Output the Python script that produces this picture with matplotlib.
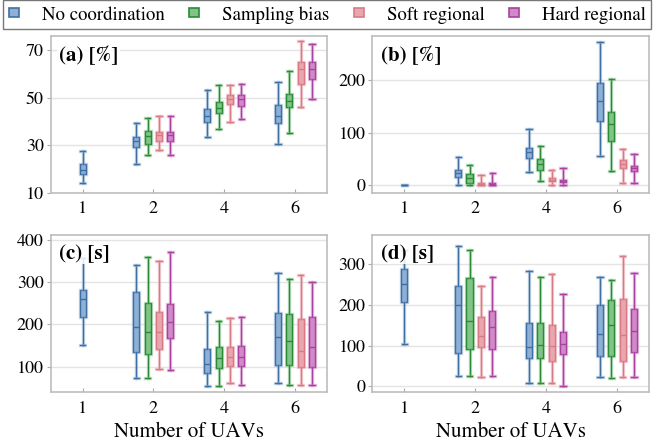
import matplotlib
matplotlib.use("Agg")
import matplotlib.pyplot as plt
import matplotlib.patheffects as pe
from matplotlib.patches import Patch

plt.rcParams['font.family'] = ['STIXGeneral', 'DejaVu Serif']
plt.rcParams['mathtext.fontset'] = 'stix'

uav_counts = ['1', '2', '4', '6']
series_names = ['No coordination', 'Sampling bias', 'Soft regional', 'Hard regional']
edge_colors = ['#3d6fa5', '#2a8a36', '#d77a85', '#a9419f']
fill_colors = ['#8fb0d4', '#80c488', '#eaa6ae', '#d08ac8']

# whisker low, Q1, median, Q3, whisker high for 1, 2, 4, 6 UAVs (None = not run)
a_none = [[14.2, 17.9, 19.5, 21.9, 27.7], [22.1, 29.2, 31.9, 33.6, 39.5],
          [33.3, 39.6, 42.3, 45.1, 53.2], [30.6, 39.3, 42.3, 46.9, 56.5]]
a_bias = [None, [25.9, 30.5, 33.9, 36.0, 41.3],
          [36.8, 43.7, 45.8, 48.2, 55.3], [35.3, 45.9, 48.6, 51.7, 61.4]]
a_soft = [None, [28.0, 31.9, 34.1, 35.5, 42.3],
          [39.6, 47.3, 49.4, 51.1, 55.2], [45.9, 56.0, 62.1, 65.2, 74.0]]
a_hard = [None, [25.7, 31.8, 34.3, 35.5, 42.3],
          [40.9, 46.6, 49.6, 51.3, 55.6], [49.6, 57.9, 62.1, 65.0, 72.7]]

b_none = [[-0.5, -0.2, 0.0, 0.3, 0.6], [0.0, 14.2, 22.0, 29.0, 53.5],
          [24.5, 51.0, 63.2, 70.3, 107.0], [55.0, 123.0, 161.0, 195.5, 274.0]]
b_bias = [None, [0.0, 4.5, 12.3, 20.0, 38.7],
          [7.7, 29.0, 40.0, 50.3, 74.2], [26.0, 84.0, 116.0, 140.0, 203.0]]
b_soft = [None, [0.0, 0.0, 1.3, 2.6, 18.7],
          [0.0, 6.5, 9.7, 12.3, 28.4], [4.0, 32.0, 39.7, 46.8, 69.0]]
b_hard = [None, [0.0, 0.0, 1.3, 3.9, 22.6],
          [0.0, 5.2, 7.7, 9.7, 32.9], [4.0, 27.0, 32.0, 37.0, 60.0]]

c_none = [[150.5, 217.6, 260.0, 282.4, 358.0], [72.4, 136.0, 193.0, 276.0, 340.0],
          [55.0, 85.0, 105.5, 141.0, 228.7], [60.5, 103.0, 170.0, 226.3, 321.0]]
c_bias = [None, [72.4, 130.0, 182.0, 251.6, 360.5],
          [55.0, 97.6, 120.5, 146.0, 207.4], [57.4, 104.0, 161.6, 224.0, 307.6]]
c_soft = [None, [94.5, 141.0, 183.0, 229.5, 350.0],
          [60.5, 102.4, 123.0, 146.0, 216.0], [56.6, 98.4, 137.0, 213.0, 316.3]]
c_hard = [None, [91.3, 168.7, 206.6, 249.0, 372.0],
          [55.8, 101.6, 123.7, 149.7, 217.0], [57.4, 98.4, 146.6, 218.4, 300.5]]

d_none = [[104.4, 207.0, 250.7, 287.7, 335.0], [25.5, 82.0, 199.0, 245.7, 345.0],
          [8.2, 70.7, 96.0, 154.5, 284.4], [23.8, 74.0, 128.0, 199.0, 269.6]]
d_bias = [None, [25.5, 92.9, 159.5, 266.3, 336.0],
          [9.0, 70.0, 102.0, 156.0, 268.8], [20.5, 74.8, 151.0, 211.0, 260.5]]
d_soft = [None, [23.0, 96.0, 125.0, 170.0, 247.4],
          [8.2, 63.5, 98.6, 149.6, 277.0], [23.0, 61.6, 126.6, 214.5, 321.4]]
d_hard = [None, [25.5, 92.9, 146.3, 184.0, 269.6],
          [0.8, 79.7, 105.2, 134.8, 226.8], [23.8, 84.7, 136.4, 189.0, 278.6]]

offsets = [-0.24, -0.08, 0.08, 0.24]


def draw_panel(ax, series, label, ylim, yticks):
    for s, summaries in enumerate(series):
        stats, pos = [], []
        for i, v in enumerate(summaries):
            if v is None:
                continue
            # only one strategy for a single UAV -> centre the box
            n_here = sum(1 for other in series if other[i] is not None)
            pos.append(i if n_here == 1 else i + offsets[s])
            stats.append(dict(whislo=v[0], q1=v[1], med=v[2], q3=v[3], whishi=v[4], fliers=[]))
        halo = [pe.Stroke(linewidth=2.4, foreground=fill_colors[s], alpha=0.5), pe.Normal()]
        bp = ax.bxp(stats, positions=pos, widths=0.085, patch_artist=True,
                    showfliers=False, manage_ticks=False,
                    boxprops=dict(facecolor=fill_colors[s], edgecolor=edge_colors[s], linewidth=1.0),
                    medianprops=dict(color=edge_colors[s], linewidth=1.0),
                    whiskerprops=dict(color=edge_colors[s], linewidth=1.0),
                    capprops=dict(color=edge_colors[s], linewidth=1.0),
                    capwidths=0.075)
        for key in ['boxes', 'whiskers', 'caps']:
            for art in bp[key]:
                art.set_path_effects(halo)
    ax.set_xlim(-0.45, 3.45)
    ax.set_ylim(*ylim)
    ax.set_xticks(range(len(uav_counts)))
    ax.set_xticklabels(uav_counts)
    ax.set_yticks(yticks)
    ax.yaxis.grid(True, color='#e4e4e4', linewidth=1)
    ax.set_axisbelow(True)
    for sp in ax.spines.values():
        sp.set_color('#bdbdbd')
        sp.set_linewidth(1.2)
    ax.tick_params(axis='y', labelsize=13, color='#aaaaaa', length=3, pad=2)
    ax.tick_params(axis='x', labelsize=13, color='#aaaaaa', length=3, direction='in', pad=6)
    ax.text(0.03, 0.94, label, transform=ax.transAxes, fontsize=15, fontweight='bold',
            va='top', ha='left', zorder=5,
            bbox=dict(facecolor='white', edgecolor='none', alpha=0.85, pad=1))


fig = plt.figure(figsize=(6.58, 4.45), dpi=100)
ax_a = fig.add_axes([0.077, 0.567, 0.420, 0.352])
ax_b = fig.add_axes([0.566, 0.567, 0.420, 0.352])
ax_c = fig.add_axes([0.077, 0.118, 0.420, 0.354])
ax_d = fig.add_axes([0.566, 0.118, 0.420, 0.354])

draw_panel(ax_a, [a_none, a_bias, a_soft, a_hard], '(a) [%]', (10, 76), [10, 30, 50, 70])
draw_panel(ax_b, [b_none, b_bias, b_soft, b_hard], '(b) [%]', (-15, 285), [0, 100, 200])
draw_panel(ax_c, [c_none, c_bias, c_soft, c_hard], '(c) [s]', (39, 412), [100, 200, 300, 400])
draw_panel(ax_d, [d_none, d_bias, d_soft, d_hard], '(d) [s]', (-15, 372), [0, 100, 200, 300])

for ax in (ax_c, ax_d):
    ax.set_xlabel('Number of UAVs', fontsize=15, labelpad=4)

handles = [Patch(facecolor=f, edgecolor=e, linewidth=1.2) for f, e in zip(fill_colors, edge_colors)]
leg = fig.legend(handles, series_names, loc='center', ncol=4, mode='expand',
                 bbox_to_anchor=(0.005, 0.937, 0.985, 0.06), fontsize=13.5,
                 frameon=True, fancybox=False, handlelength=0.55, handleheight=0.35,
                 borderaxespad=0, borderpad=0.3, handletextpad=1.2)
leg.get_frame().set_edgecolor('#555555')
leg.get_frame().set_linewidth(1.0)

fig.savefig('out.png', dpi=100)
